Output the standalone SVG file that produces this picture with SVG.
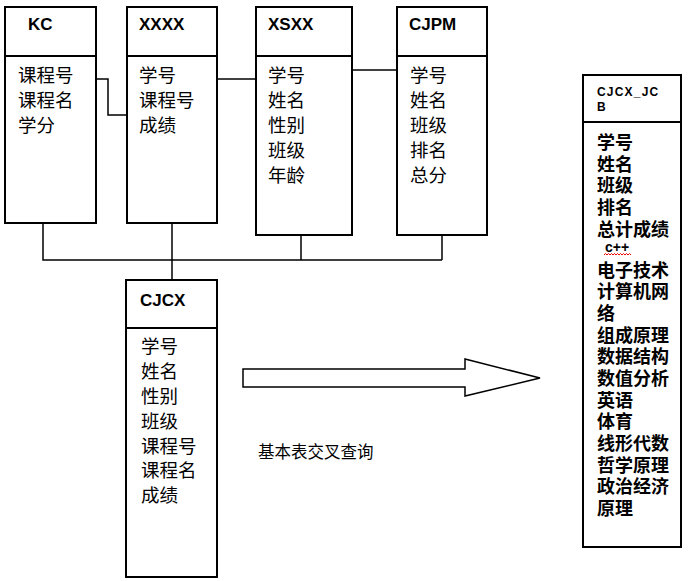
<svg xmlns="http://www.w3.org/2000/svg" width="692" height="581" viewBox="0 0 692 581">
<style>
.box{fill:#fff;stroke:#000;stroke-width:2}
.div{stroke:#000;stroke-width:2}
.con{fill:none;stroke:#000;stroke-width:1.5}
.title{font-family:"Liberation Sans",Arial,sans-serif;font-weight:bold;font-size:17px;fill:#000}
.body{font-family:"Liberation Serif","Noto Sans CJK SC",serif;font-size:18.5px;fill:#000}
.jb{font-family:"Liberation Sans","Noto Sans CJK SC",sans-serif;font-weight:bold;font-size:18px;fill:#000}
.lbl{font-family:"Liberation Sans","Noto Sans CJK SC",sans-serif;font-size:16.5px;fill:#000}
</style>
<rect width="692" height="581" fill="#fff"/>
<g id="connectors">
<polyline class="con" points="96,79 108,79 108,115 127,115"/>
<line class="con" x1="217" y1="79" x2="256" y2="79"/>
<line class="con" x1="352" y1="70" x2="397" y2="70"/>
<polyline class="con" points="43,223 43,260 442,260"/>
<line class="con" x1="172" y1="223" x2="172" y2="280"/>
<line class="con" x1="301" y1="223" x2="301" y2="260"/>
<line class="con" x1="442" y1="223" x2="442" y2="260"/>
</g>
<g id="KC">
<rect class="box" x="5" y="7" width="91" height="216"/>
<line class="div" x1="5" y1="56" x2="96" y2="56"/>
<text class="title" x="28" y="30">KC</text>
<text class="body" x="18" y="82">课程号</text>
<text class="body" x="18" y="107">课程名</text>
<text class="body" x="18" y="132">学分</text>
</g>
<g id="XXXX">
<rect class="box" x="127" y="7" width="90" height="216"/>
<line class="div" x1="127" y1="56" x2="217" y2="56"/>
<text class="title" x="139" y="30">XXXX</text>
<text class="body" x="139" y="82">学号</text>
<text class="body" x="139" y="107">课程号</text>
<text class="body" x="139" y="132">成绩</text>
</g>
<g id="XSXX">
<rect class="box" x="256" y="7" width="96" height="228"/>
<line class="div" x1="256" y1="56" x2="352" y2="56"/>
<text class="title" x="268" y="30">XSXX</text>
<text class="body" x="268" y="82">学号</text>
<text class="body" x="268" y="107">姓名</text>
<text class="body" x="268" y="132">性别</text>
<text class="body" x="268" y="157">班级</text>
<text class="body" x="268" y="182">年龄</text>
</g>
<g id="CJPM">
<rect class="box" x="397" y="7" width="90" height="228"/>
<line class="div" x1="397" y1="56" x2="487" y2="56"/>
<text class="title" x="409" y="30">CJPM</text>
<text class="body" x="410" y="82">学号</text>
<text class="body" x="410" y="107">姓名</text>
<text class="body" x="410" y="132">班级</text>
<text class="body" x="410" y="157">排名</text>
<text class="body" x="410" y="182">总分</text>
</g>
<g id="CJCX">
<rect class="box" x="126" y="280" width="91" height="297"/>
<line class="div" x1="126" y1="328" x2="217" y2="328"/>
<text class="title" x="140" y="306">CJCX</text>
<text class="body" x="141" y="353">学号</text>
<text class="body" x="141" y="378">姓名</text>
<text class="body" x="141" y="403">性别</text>
<text class="body" x="141" y="428">班级</text>
<text class="body" x="141" y="453">课程号</text>
<text class="body" x="141" y="477">课程名</text>
<text class="body" x="141" y="502">成绩</text>
</g>
<g id="arrow">
<polygon points="243,369 465,369 465,359 540,378 465,396 465,387 243,387" fill="#fff" stroke="#000" stroke-width="1.5"/>
<text class="lbl" x="258" y="458">基本表交叉查询</text>
</g>
<g id="CJCX_JCB">
<rect class="box" x="583" y="75" width="98" height="472"/>
<line class="div" x1="583" y1="122" x2="681" y2="122"/>
<text class="title" x="597" y="96" style="font-size:12px;letter-spacing:1.2px">CJCX_JC</text>
<text class="title" x="597" y="111" style="font-size:12px">B</text>
<text class="jb" x="597" y="149">学号</text>
<text class="jb" x="597" y="171">姓名</text>
<text class="jb" x="597" y="192">班级</text>
<text class="jb" x="597" y="214">排名</text>
<text class="jb" x="597" y="236">总计成绩</text>
<text class="title" x="605" y="252" style="font-size:14px">c++</text>
<path d="M604,255 l1.5,-1.5 l1.5,1.5 l1.5,-1.5 l1.5,1.5 l1.5,-1.5 l1.5,1.5 l1.5,-1.5 l1.5,1.5 l1.5,-1.5 l1.5,1.5 l1.5,-1.5 l1.5,1.5 l1.5,-1.5 l1.5,1.5 l1.5,-1.5 l1.5,1.5 l1.5,-1.5 l1.5,1.5" fill="none" stroke="#e00" stroke-width="1"/>
<text class="jb" x="597" y="277">电子技术</text>
<text class="jb" x="597" y="298">计算机网</text>
<text class="jb" x="597" y="320">络</text>
<text class="jb" x="597" y="342">组成原理</text>
<text class="jb" x="597" y="363">数据结构</text>
<text class="jb" x="597" y="385">数值分析</text>
<text class="jb" x="597" y="407">英语</text>
<text class="jb" x="597" y="428">体育</text>
<text class="jb" x="597" y="450">线形代数</text>
<text class="jb" x="597" y="472">哲学原理</text>
<text class="jb" x="597" y="493">政治经济</text>
<text class="jb" x="597" y="515">原理</text>
</g>
</svg>
